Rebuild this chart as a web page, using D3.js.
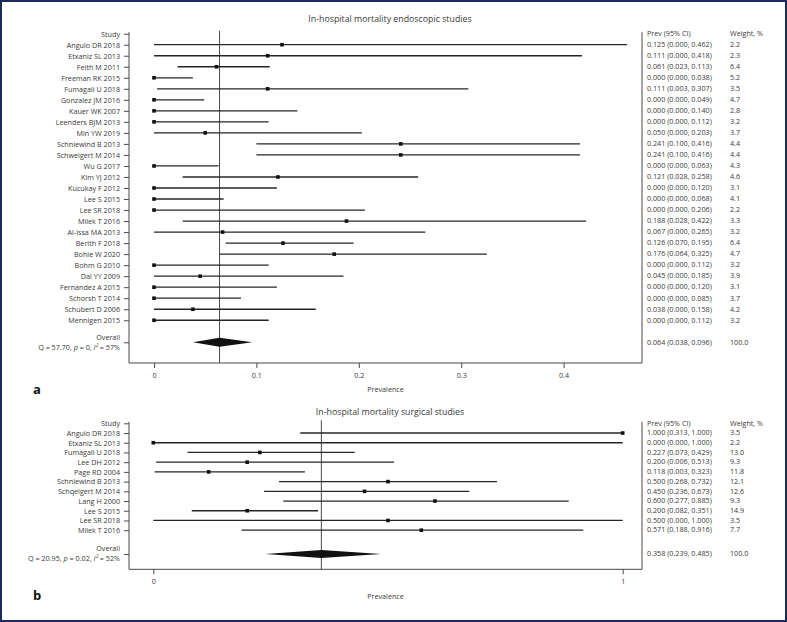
<!DOCTYPE html>
<html>
<head>
<meta charset="utf-8">
<script src="https://cdn.jsdelivr.net/npm/d3@7"></script>
<style>
  html, body { margin: 0; padding: 0; background: #fff; }
  svg { display: block; font-family: "Open Sans", "Noto Sans", sans-serif; }
</style>
</head>
<body>
<div id="chart"></div>
<script>
// ---- data: endoscopic studies (panel a) ----
const ENDO_TITLE = "In-hospital mortality endoscopic studies";
const ENDO_STUDIES = [
  "Angulo DR 2018", "Etxaniz SL 2013", "Feith M 2011", "Freeman RK 2015",
  "Fumagali U 2018", "Gonzalez JM 2016", "Kauer WK 2007", "Leenders BJM 2013",
  "Min YW 2019", "Schniewind B 2013", "Schweigert M 2014", "Wu G 2017",
  "Kim YJ 2012", "Kucukay F 2012", "Lee S 2015", "Lee SR 2018",
  "Milek T 2016", "Al-issa MA 2013", "Berlth F 2018", "Bohle W 2020",
  "Bohm G 2010", "Dai YY 2009", "Fernandez A 2015", "Schorsh T 2014",
  "Schubert D 2006", "Mennigen 2015"
];
const ENDO_PREV = [0.125, 0.111, 0.061, 0.000, 0.111, 0.000, 0.000, 0.000, 0.050, 0.241, 0.241, 0.000, 0.121,
                   0.000, 0.000, 0.000, 0.188, 0.067, 0.126, 0.176, 0.000, 0.045, 0.000, 0.000, 0.038, 0.000];
const ENDO_LOW = [0.000, 0.000, 0.023, 0.000, 0.003, 0.000, 0.000, 0.000, 0.000, 0.100, 0.100, 0.000, 0.028,
                  0.000, 0.000, 0.000, 0.028, 0.000, 0.070, 0.064, 0.000, 0.000, 0.000, 0.000, 0.000, 0.000];
const ENDO_HIGH = [0.462, 0.418, 0.113, 0.038, 0.307, 0.049, 0.140, 0.112, 0.203, 0.416, 0.416, 0.063, 0.258,
                   0.120, 0.068, 0.206, 0.422, 0.265, 0.195, 0.325, 0.112, 0.185, 0.120, 0.085, 0.158, 0.112];
const ENDO_WEIGHT = [2.2, 2.3, 6.4, 5.2, 3.5, 4.7, 2.8, 3.2, 3.7, 4.4, 4.4, 4.3, 4.6,
                     3.1, 4.1, 2.2, 3.3, 3.2, 6.4, 4.7, 3.2, 3.9, 3.1, 3.7, 4.2, 3.2];
const ENDO_OVERALL = [0.064, 0.038, 0.096];
const ENDO_OVERALL_WEIGHT = 100.0;
const ENDO_STATS = { q: "57.70", p: "0", i2: "57%" };
const ENDO_TICKS = [0, 0.1, 0.2, 0.3, 0.4];

// ---- data: surgical studies (panel b) ----
const SURG_TITLE = "In-hospital mortality surgical studies";
const SURG_STUDIES = [
  "Angulo DR 2018", "Etxaniz SL 2013", "Fumagali U 2018", "Lee DH 2012",
  "Page RD 2004", "Schniewind B 2013", "Schqeigert M 2014", "Lang H 2000",
  "Lee S 2015", "Lee SR 2018", "Milek T 2016"
];
const SURG_PREV = [1.000, 0.000, 0.227, 0.200, 0.118, 0.500, 0.450, 0.600, 0.200, 0.500, 0.571];
const SURG_LOW = [0.313, 0.000, 0.073, 0.006, 0.003, 0.268, 0.236, 0.277, 0.082, 0.000, 0.188];
const SURG_HIGH = [1.000, 1.000, 0.429, 0.513, 0.323, 0.732, 0.673, 0.885, 0.351, 1.000, 0.916];
const SURG_WEIGHT = [3.5, 2.2, 13.0, 9.3, 11.8, 12.1, 12.6, 9.3, 14.9, 3.5, 7.7];
const SURG_OVERALL = [0.358, 0.239, 0.485];
const SURG_OVERALL_WEIGHT = 100.0;
const SURG_STATS = { q: "20.95", p: "0.02", i2: "52%" };
const SURG_TICKS = [0, 1];

const W = 787, H = 622;
const TEXT = "#3a3a3a";
const AXIS = "#4a4a4a";
const FONT = "\"Open Sans\", \"Noto Sans\", sans-serif";
const FS = 7.2;
const f3 = d3.format(".3f");
const f1 = d3.format(".1f");

const svg = d3.select("#chart").append("svg")
  .attr("width", W).attr("height", H);

svg.append("rect")
  .attr("x", 1).attr("y", 1)
  .attr("width", W - 2).attr("height", H - 2)
  .attr("fill", "#fff")
  .attr("stroke", "#1d2a5c")
  .attr("stroke-width", 2);

function drawForest(cfg) {
  const g = svg.append("g");
  const n = cfg.studies.length;

  const x = d3.scaleLinear().domain(cfg.xDomain).range(cfg.xRange);
  // row 0 = header, 1..n = studies, cfg.overallRow = overall
  const y = d3.scaleLinear().domain([0, cfg.overallRow]).range(cfg.yRange);

  const axisLeftX = 129, boxRightX = 642;
  const axisY = cfg.axisY;

  // title
  g.append("text")
    .attr("x", 390).attr("y", cfg.titleY)
    .attr("text-anchor", "middle")
    .attr("font-size", 8.8)
    .attr("fill", TEXT)
    .text(cfg.title);

  // left axis with study labels
  const rows = d3.range(0, n + 1).concat([cfg.overallRow]);
  const labels = ["Study"].concat(cfg.studies).concat([""]);
  const yAxis = g.append("g")
    .attr("transform", `translate(${axisLeftX},0)`)
    .call(d3.axisLeft(y).tickValues(rows).tickSize(5).tickPadding(4)
      .tickFormat((d, i) => labels[i]));
  yAxis.select(".domain").remove();
  yAxis.selectAll("line").attr("stroke", AXIS);
  yAxis.selectAll("text")
    .attr("font-size", FS)
    .attr("font-family", FONT)
    .attr("fill", TEXT);

  // overall label (two lines)
  const oy = y(cfg.overallRow);
  g.append("text")
    .attr("x", 120).attr("y", oy - cfg.overallGap).attr("dy", "0.32em")
    .attr("text-anchor", "end")
    .attr("font-size", FS)
    .attr("fill", TEXT)
    .text("Overall");
  const ql = g.append("text")
    .attr("x", 120).attr("y", oy + cfg.overallGap).attr("dy", "0.32em")
    .attr("text-anchor", "end")
    .attr("font-size", FS)
    .attr("fill", TEXT);
  ql.append("tspan").text(`Q = ${cfg.stats.q}, `);
  ql.append("tspan").attr("font-style", "italic").text("p");
  ql.append("tspan").text(` = ${cfg.stats.p}, `);
  ql.append("tspan").attr("font-style", "italic").text("I\u00b2");
  ql.append("tspan").text(` = ${cfg.stats.i2}`);

  // frame: left, bottom, right lines
  const frameTop = y(0) - 1.5;
  g.append("path")
    .attr("d", `M${axisLeftX},${frameTop}V${axisY}H${boxRightX}V${frameTop}`)
    .attr("fill", "none")
    .attr("stroke", AXIS)
    .attr("stroke-width", 1);

  // bottom axis
  const xAxis = g.append("g")
    .attr("transform", `translate(0,${axisY})`)
    .call(d3.axisBottom(x).tickValues(cfg.ticks).tickSize(5).tickPadding(5)
      .tickFormat(d3.format("")));
  xAxis.select(".domain").remove();
  xAxis.selectAll("line").attr("stroke", AXIS);
  xAxis.selectAll("text")
    .attr("font-size", FS)
    .attr("font-family", FONT)
    .attr("fill", TEXT);

  g.append("text")
    .attr("x", (axisLeftX + boxRightX) / 2)
    .attr("y", cfg.xLabelY)
    .attr("text-anchor", "middle")
    .attr("font-size", FS)
    .attr("fill", TEXT)
    .text("Prevalence");

  // reference line at overall estimate
  g.append("line")
    .attr("x1", x(cfg.overall[0])).attr("x2", x(cfg.overall[0]))
    .attr("y1", y(0) - 3).attr("y2", axisY)
    .attr("stroke", AXIS)
    .attr("stroke-width", 1);

  // CI lines
  const data = cfg.studies.map((s, i) => ({
    name: s, row: i + 1, prev: cfg.prev[i], low: cfg.low[i], high: cfg.high[i], w: cfg.weight[i]
  }));

  g.selectAll(".ci")
    .data(data)
    .enter()
    .append("line")
    .attr("class", "ci")
    .attr("x1", d => x(d.low))
    .attr("x2", d => x(d.high))
    .attr("y1", d => y(d.row))
    .attr("y2", d => y(d.row))
    .attr("stroke", "#262626")
    .attr("stroke-width", 1.3);

  const sq = 3.6;
  g.selectAll(".pt")
    .data(data)
    .enter()
    .append("rect")
    .attr("class", "pt")
    .attr("x", d => x(d.prev) - sq / 2)
    .attr("y", d => y(d.row) - sq / 2)
    .attr("width", sq)
    .attr("height", sq)
    .attr("fill", "#111");

  // overall diamond
  const [est, lo, hi] = cfg.overall;
  const dh = cfg.diamondH;
  g.append("path")
    .attr("d", `M${x(lo)},${oy}L${x(est)},${oy - dh}L${x(hi)},${oy}L${x(est)},${oy + dh}Z`)
    .attr("fill", "#111");

  // right text columns
  const colPrev = 647, colW = 730;
  g.append("text").attr("x", colPrev).attr("y", y(0)).attr("dy", "0.32em")
    .attr("font-size", FS).attr("fill", TEXT).text("Prev (95% CI)");
  g.append("text").attr("x", colW).attr("y", y(0)).attr("dy", "0.32em")
    .attr("font-size", FS).attr("fill", TEXT).text("Weight, %");

  g.selectAll(".ptxt")
    .data(data)
    .enter()
    .append("text")
    .attr("x", colPrev).attr("y", d => y(d.row)).attr("dy", "0.32em")
    .attr("font-size", FS).attr("fill", TEXT)
    .text(d => `${f3(d.prev)} (${f3(d.low)}, ${f3(d.high)})`);

  g.selectAll(".wtxt")
    .data(data)
    .enter()
    .append("text")
    .attr("x", colW).attr("y", d => y(d.row)).attr("dy", "0.32em")
    .attr("font-size", FS).attr("fill", TEXT)
    .text(d => f1(d.w));

  g.append("text").attr("x", colPrev).attr("y", oy).attr("dy", "0.32em")
    .attr("font-size", FS).attr("fill", TEXT)
    .text(`${f3(est)} (${f3(lo)}, ${f3(hi)})`);
  g.append("text").attr("x", colW).attr("y", oy).attr("dy", "0.32em")
    .attr("font-size", FS).attr("fill", TEXT)
    .text(f1(cfg.overallWeight));

  // panel letter
  g.append("text")
    .attr("x", 33).attr("y", cfg.letterY)
    .attr("font-size", 13)
    .attr("font-weight", 700)
    .attr("fill", "#111")
    .text(cfg.letter);
}

drawForest({
  title: ENDO_TITLE, studies: ENDO_STUDIES, prev: ENDO_PREV, low: ENDO_LOW, high: ENDO_HIGH,
  weight: ENDO_WEIGHT, overall: ENDO_OVERALL, overallWeight: ENDO_OVERALL_WEIGHT,
  stats: ENDO_STATS, ticks: ENDO_TICKS,
  xDomain: [0, 0.4], xRange: [154, 563.6],
  overallRow: 28, yRange: [33.7, 342.3],
  axisY: 363, titleY: 22, xLabelY: 392, letterY: 394,
  overallGap: 5, diamondH: 4.5, letter: "a"
});

drawForest({
  title: SURG_TITLE, studies: SURG_STUDIES, prev: SURG_PREV, low: SURG_LOW, high: SURG_HIGH,
  weight: SURG_WEIGHT, overall: SURG_OVERALL, overallWeight: SURG_OVERALL_WEIGHT,
  stats: SURG_STATS, ticks: SURG_TICKS,
  xDomain: [0, 1], xRange: [153.3, 622.7],
  overallRow: 13.45, yRange: [423.3, 554],
  axisY: 569.3, titleY: 415, xLabelY: 599, letterY: 600,
  overallGap: 5, diamondH: 4, letter: "b"
});
</script>
</body>
</html>
